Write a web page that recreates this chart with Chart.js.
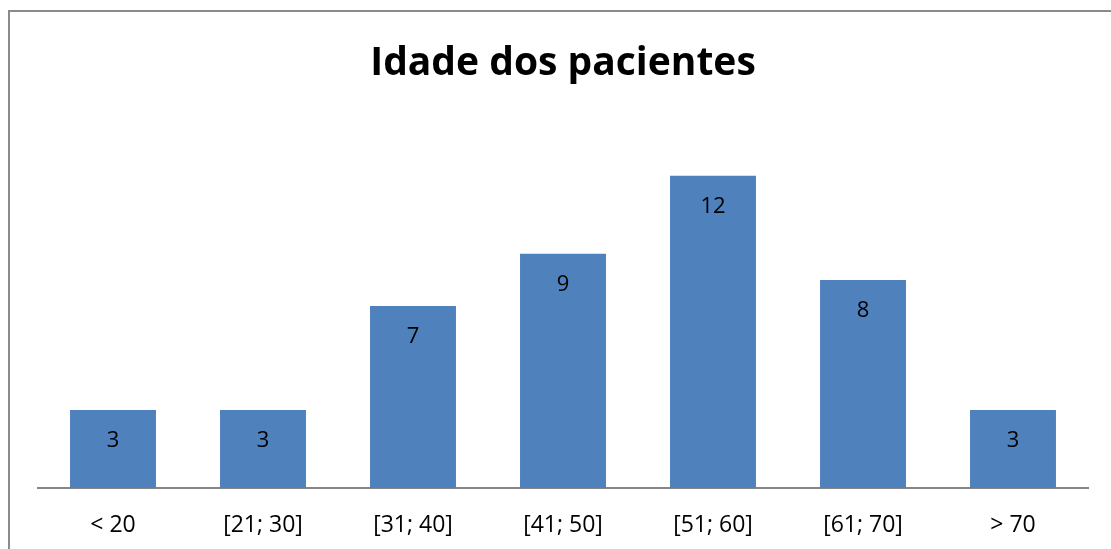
<!DOCTYPE html>
<html>
<head>
<meta charset="utf-8">
<script src="https://cdn.jsdelivr.net/npm/chart.js@4/dist/chart.umd.min.js"></script>
<style>
  html, body { margin: 0; padding: 0; background: #fff; }
  #wrap { width: 1111px; height: 549px; position: relative; }
</style>
</head>
<body>
<div id="wrap"><canvas id="c" width="1111" height="549"></canvas></div>
<script>
const categories = ['< 20', '[21; 30]', '[31; 40]', '[41; 50]', '[51; 60]', '[61; 70]', '> 70'];
const patients = [3, 3, 7, 9, 12, 8, 3];
const chartTitle = 'Idade dos pacientes';

const frame = {
  id: 'frame',
  beforeDraw(chart) {
    const ctx = chart.ctx;
    ctx.save();
    ctx.fillStyle = '#ffffff';
    ctx.fillRect(0, 0, chart.width, chart.height);
    ctx.strokeStyle = '#8a8a8a';
    ctx.lineWidth = 2;
    ctx.beginPath();
    ctx.moveTo(9, chart.height);
    ctx.lineTo(9, 11);
    ctx.lineTo(chart.width, 11);
    ctx.stroke();
    ctx.restore();
  }
};

const valueLabels = {
  id: 'valueLabels',
  afterDatasetsDraw(chart) {
    const ctx = chart.ctx;
    const meta = chart.getDatasetMeta(0);
    ctx.save();
    ctx.font = '22px "Open Sans", sans-serif';
    ctx.fillStyle = '#000000';
    ctx.textAlign = 'center';
    ctx.textBaseline = 'middle';
    meta.data.forEach((bar, i) => {
      ctx.fillText(String(chart.data.datasets[0].data[i]), bar.x, bar.y + 31);
    });
    ctx.restore();
  }
};

new Chart(document.getElementById('c'), {
  type: 'bar',
  data: {
    labels: categories,
    datasets: [{
      data: patients,
      backgroundColor: '#4F81BD',
      borderWidth: 0,
      barPercentage: 0.573,
      categoryPercentage: 1.0
    }]
  },
  options: {
    responsive: false,
    animation: false,
    layout: { padding: { left: 38, right: 23, top: 0, bottom: 0 } },
    plugins: {
      legend: { display: false },
      tooltip: { enabled: false },
      title: {
        display: true,
        text: chartTitle,
        color: '#000000',
        font: { family: '"Open Sans", sans-serif', size: 39, weight: 'bold', lineHeight: 1.2 },
        padding: { top: 40, bottom: 37 }
      }
    },
    scales: {
      y: {
        display: false,
        min: 0,
        max: 14
      },
      x: {
        grid: { display: false, drawTicks: false },
        border: { display: true, color: '#868686', width: 2 },
        afterFit(scale) { scale.height = 61; },
        ticks: {
          color: '#000000',
          padding: 24,
          font: { family: '"Open Sans", sans-serif', size: 23 }
        }
      }
    }
  },
  plugins: [frame, valueLabels]
});
</script>
</body>
</html>
